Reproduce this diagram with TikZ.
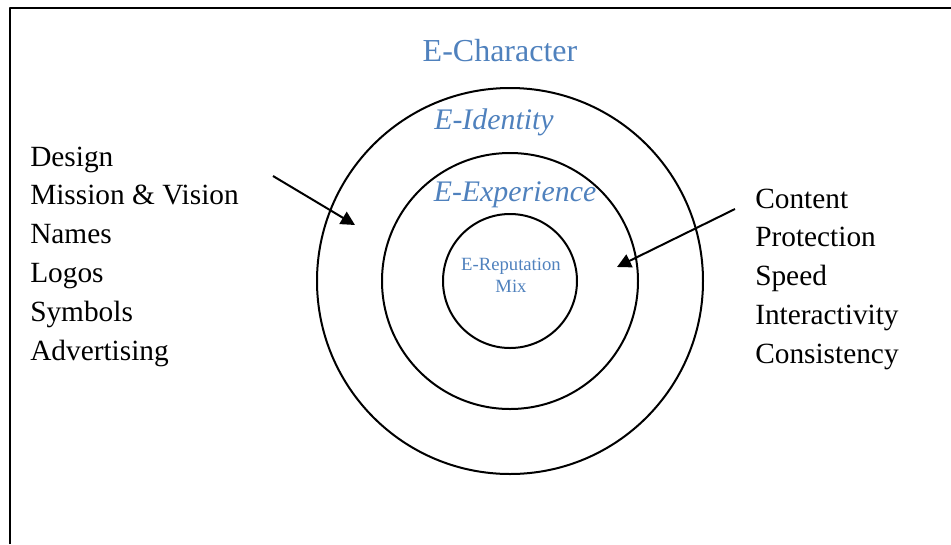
\documentclass[tikz,border=0pt]{standalone}
\usepackage{fontspec}
\setmainfont{Liberation Serif}
\usetikzlibrary{arrows.meta}
\definecolor{wordblue}{RGB}{79,129,189}
\tikzset{
  ring/.style={line width=1.5pt},
  itemtext/.style={font=\fontsize{22}{26}\selectfont, inner sep=0pt, anchor=base west},
  eterm/.style={font=\fontsize{22.4}{26}\selectfont\itshape, text=wordblue, inner sep=0pt, anchor=base},
  pointer/.style={->, line width=1.5pt}
}
\begin{document}
\begin{tikzpicture}[x=0.75pt, y=-0.75pt, line join=round, >={Triangle[length=10.5pt,width=10.5pt]}]
  \useasboundingbox (0,0) rectangle (951,544);
  \def\cx{510} \def\cy{281} % centre of the rings
  \draw[line width=1.8pt] (10,544)--(10,8)--(951,8);
  % rings
  \draw[ring] (\cx,\cy) circle (193);
  \draw[ring] (\cx,\cy) circle (128);
  \draw[ring] (\cx,\cy) circle (67);
  % titles
  \node[eterm, font=\fontsize{24}{28}\selectfont] (echar) at (500,61) {E-Character};
  \node[eterm] (eident) at (494,129) {E-Identity};
  \node[eterm] (eexp) at (515,201) {E-Experience};
  \node[font=\fontsize{14}{16.3}\selectfont, text=wordblue, align=center, inner sep=0pt] (erep) at (511,275.5) {E-Reputation\\Mix};
  % lists
  \foreach \txt [count=\i] in {Design, Mission \& Vision, Names, Logos, Symbols, Advertising}
    \node[itemtext] (ident-\i) at (30,{166+38.8*(\i-1)}) {\txt};
  \foreach \txt [count=\i] in {Content, Protection, Speed, Interactivity, Consistency}
    \node[itemtext] (exp-\i) at (755,{208+38.75*(\i-1)}) {\txt};
  % pointers
  \coordinate (identtail) at (273,176); \coordinate (identtip) at (355,225);
  \coordinate (exptail) at (735,209); \coordinate (exptip) at (617,267);
  \draw[pointer] (identtail)--(identtip);
  \draw[pointer] (exptail)--(exptip);
\end{tikzpicture}
\end{document}
